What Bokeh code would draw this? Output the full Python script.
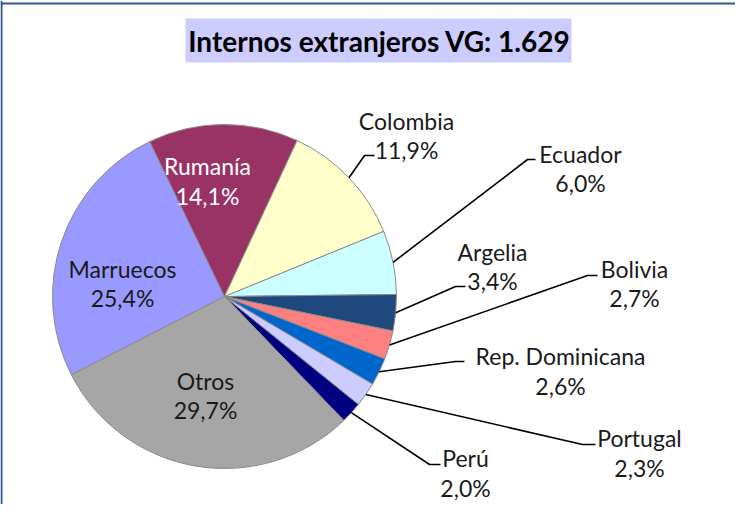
import numpy as np
from bokeh.plotting import figure
from bokeh.models import Range1d, ColumnDataSource, Span
from bokeh.core.properties import value
from bokeh.embed import file_html
from bokeh.resources import INLINE

# ---- data ----
countries = ["Marruecos", "Rumanía", "Colombia", "Ecuador", "Argelia", "Bolivia",
             "Rep. Dominicana", "Portugal", "Perú", "Otros"]
percents = [25.4, 14.1, 11.9, 6.0, 3.4, 2.7, 2.6, 2.3, 2.0, 29.7]
pct_labels = ["25,4%", "14,1%", "11,9%", "6,0%", "3,4%", "2,7%", "2,6%", "2,3%", "2,0%", "29,7%"]
colors = ["#9999FF", "#993366", "#FFFFCC", "#CCFFFF", "#1F497D", "#FF8080",
          "#0066CC", "#CCCCFF", "#000080", "#A6A6A6"]
title_text = "Internos extranjeros VG: 1.629"

# ---- layout (page pixel coordinates; y measured downward) ----
W, H = 735, 504
def Y(py):
    return 520 - py

cx, cy, R = 232, 304, 172
first_angle = -117.1  # clockwise from 12 o'clock, degrees

FONT = "Lato"
LSIZE = "23px"

p = figure(width=W, height=H, output_backend="svg", toolbar_location=None,
           x_range=Range1d(8, 8 + W), y_range=Range1d(8, 8 + H), min_border=0)
p.xaxis.visible = False
p.yaxis.visible = False
p.grid.visible = False
p.outline_line_color = None
p.background_fill_color = "white"
p.border_fill_color = "white"

# chart area border (top & left visible)
p.add_layout(Span(location=9, dimension="height", line_color="#2F5597", line_width=2))
p.add_layout(Span(location=Y(11), dimension="width", line_color="#2F5597", line_width=2))

# title box
p.quad(left=[193], right=[579], top=[Y(26)], bottom=[Y(70)], fill_color="#CCCCFF",
       line_color=None)
p.text(x=[387], y=[Y(48)], text=[title_text], text_font=value(FONT),
       text_font_style="bold", text_font_size="28px", text_align="center",
       text_baseline="middle", text_color="#000000")

# pie wedges
vals = np.array(percents, dtype=float)
frac = vals / vals.sum()
cum = np.concatenate([[0.0], np.cumsum(frac)]) * 360.0 + first_angle
a0 = cum[:-1]
a1 = cum[1:]
start = np.radians(90.0 - a1)
end = np.radians(90.0 - a0)
src = ColumnDataSource(dict(start=start, end=end, color=colors, name=countries))
p.wedge(x=cx, y=Y(cy), radius=R, start_angle="start", end_angle="end",
        fill_color="color", line_color="#8A8A8A", line_width=1, source=src)

mid = (a0 + a1) / 2.0
edge_x = cx + R * np.sin(np.radians(mid))
edge_y = cy - R * np.cos(np.radians(mid))

# outside labels: index -> (elbow, end, label center x, name y, pct y)
outside = {
    2: ((372, 163), (382, 163), 414, 128, 157),
    3: ((535, 167), (543, 167), 588, 161, 190),
    4: ((463, 294), (473, 294), 500, 259, 288),
    5: ((595, 283), (605, 283), 642, 276, 305),
    6: ((463, 369), (472, 369), 568, 363, 393),
    7: ((590, 452), (603, 452), 647, 445, 475),
    8: ((437, 472), (448, 472), 473, 465, 495),
}
xs, ys = [], []
lx, ly, lt = [], [], []
for i, (elb, endp, tx, ny, py) in outside.items():
    xs.append([edge_x[i], elb[0], endp[0]])
    ys.append([Y(edge_y[i]), Y(elb[1]), Y(endp[1])])
    lx += [tx, tx]
    ly += [Y(ny), Y(py)]
    lt += [countries[i], pct_labels[i]]
p.multi_line(xs=xs, ys=ys, line_color="#000000", line_width=1.6)
p.text(x=lx, y=ly, text=lt, text_font=value(FONT), text_font_size=LSIZE,
       text_align="center", text_baseline="middle", text_color="#1A1A1A")

# inside labels
inside = {1: (215, 173, 203, "#FFFFFF"), 0: (130, 276, 305, "#1A1A1A"),
          9: (213, 388, 417, "#1A1A1A")}
for i, (tx, ny, py, col) in inside.items():
    p.text(x=[tx, tx], y=[Y(ny), Y(py)], text=[countries[i], pct_labels[i]],
           text_font=value(FONT), text_font_size=LSIZE, text_align="center",
           text_baseline="middle", text_color=col)

open("out.html", "w").write(file_html(p, INLINE))
